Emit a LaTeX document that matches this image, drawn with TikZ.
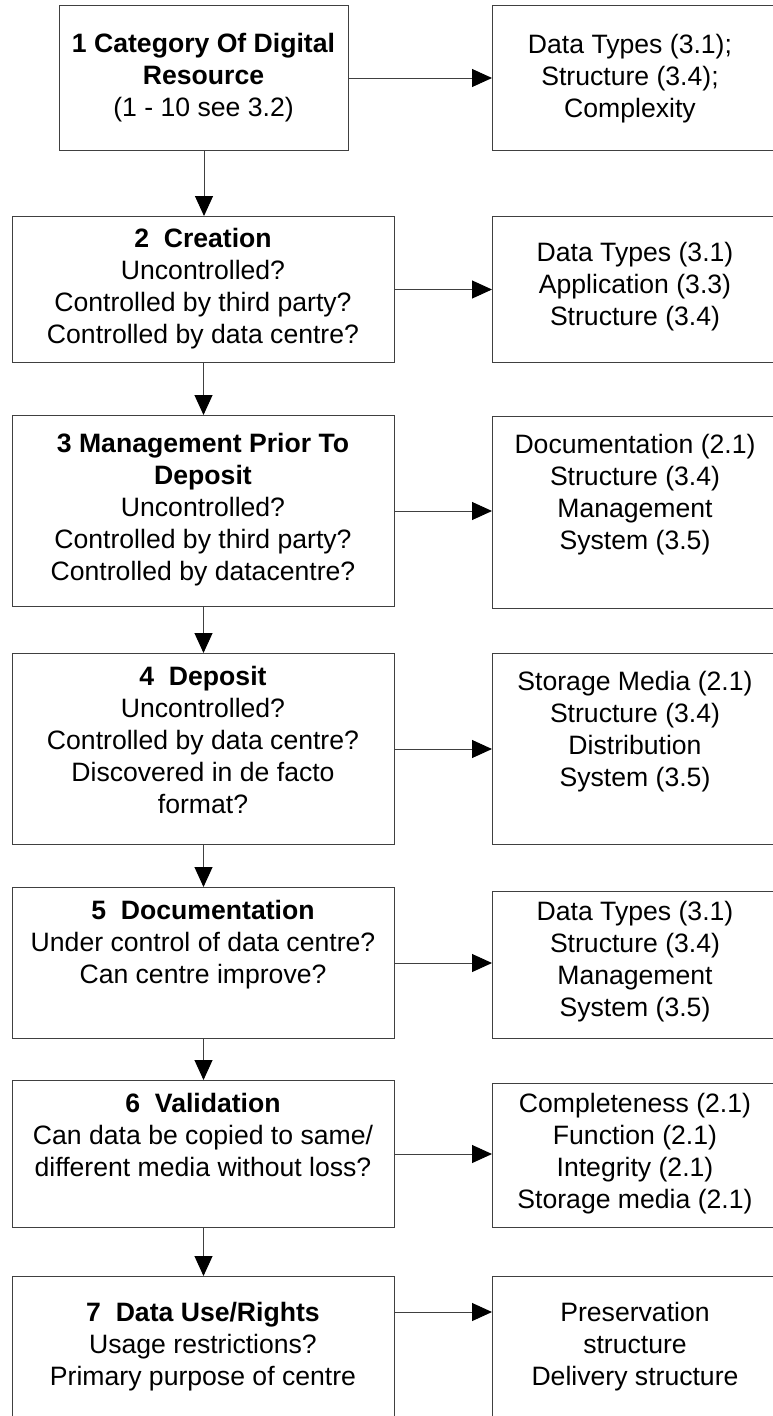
\documentclass[tikz,border=0pt]{standalone}
\usepackage{fontspec}
\setmainfont{Liberation Sans}
\usetikzlibrary{arrows.meta}
\begin{document}
\begin{tikzpicture}[x=1pt,y=-1pt,
  box/.style={draw=black!75, line width=1pt, inner sep=0pt, anchor=north west},
  txt/.style={align=center, inner sep=0pt, font=\fontsize{26.6pt}{32pt}\selectfont},
  arr/.style={draw=black!75, line width=1pt, -{Triangle[length=20pt,width=18pt,color=black,fill=black]}},
]
\useasboundingbox (0,0) rectangle (773,1416);
\clip (0,0) rectangle (773,1416);
% left boxes
\node[box, minimum width=289pt, minimum height=145pt] (b1) at (59,5) {};
\node[box, minimum width=382pt, minimum height=146pt] (b2) at (12,216) {};
\node[box, minimum width=382pt, minimum height=191pt] (b3) at (12,415) {};
\node[box, minimum width=382pt, minimum height=191pt] (b4) at (12,653) {};
\node[box, minimum width=382pt, minimum height=151pt] (b5) at (12,887) {};
\node[box, minimum width=382pt, minimum height=147pt] (b6) at (12,1080) {};
\node[box, minimum width=382pt, minimum height=160pt] (b7) at (12,1276) {};
% right boxes
\node[box, minimum width=289pt, minimum height=145pt] (r1) at (492,5) {};
\node[box, minimum width=289pt, minimum height=146pt] (r2) at (492,216) {};
\node[box, minimum width=289pt, minimum height=192pt] (r3) at (492,416) {};
\node[box, minimum width=289pt, minimum height=191pt] (r4) at (492,653) {};
\node[box, minimum width=289pt, minimum height=147pt] (r5) at (492,891) {};
\node[box, minimum width=289pt, minimum height=144pt] (r6) at (492,1083) {};
\node[box, minimum width=289pt, minimum height=160pt] (r7) at (492,1276) {};
% left texts
\node[txt] (t1) at (203.5,78) {\textbf{1 Category Of Digital}\\\textbf{Resource}\\(1 - 10 see 3.2)};
\node[txt] (t2) at (203,288.5) {\textbf{2\ \ Creation}\\Uncontrolled?\\Controlled by third party?\\Controlled by data centre?};
\node[txt] (t3) at (203,510) {\textbf{3 Management Prior To}\\\textbf{Deposit}\\Uncontrolled?\\Controlled by third party?\\Controlled by datacentre?};
\node[txt] (t4) at (203,740) {\textbf{4\ \ Deposit}\\Uncontrolled?\\Controlled by data centre?\\Discovered in de facto\\format?};
\node[txt] (t5) at (203,945) {\textbf{5\ \ Documentation}\\Under control of data centre?\\Can centre improve?};
\node[txt] (t6) at (203,1135) {\textbf{6\ \ Validation}\\Can data be copied to same/\\different media without loss?};
\node[txt] (t7) at (203,1347) {\textbf{7\ \ Data Use/Rights}\\Usage restrictions?\\Primary purpose of centre};
% right texts
\node[txt] (s1) at (630,79) {Data Types (3.1);\\Structure (3.4);\\Complexity};
\node[txt] (s2) at (635,287) {Data Types (3.1)\\Application (3.3)\\Structure (3.4)};
\node[txt] (s3) at (635,495) {Documentation (2.1)\\Structure (3.4)\\Management\\System (3.5)};
\node[txt] (s4) at (635,731.5) {Storage Media (2.1)\\Structure (3.4)\\Distribution\\System (3.5)};
\node[txt] (s5) at (635,961.5) {Data Types (3.1)\\Structure (3.4)\\Management\\System (3.5)};
\node[txt] (s6) at (635,1154) {Completeness (2.1)\\Function (2.1)\\Integrity (2.1)\\Storage media (2.1)};
\node[txt] (s7) at (635,1347) {Preservation\\structure\\Delivery structure};
% horizontal connectors
\draw[arr] (b1.east) -- (b1.east -| r1.west);
\draw[arr] (b2.east) -- (b2.east -| r2.west);
\draw[arr] (b3.east) -- (b3.east -| r3.west);
\draw[arr] (b4.east) -- (b4.east -| r4.west);
\draw[arr] (b5.east) -- (b5.east -| r5.west);
\draw[arr] (b6.east) -- (b6.east -| r6.west);
\draw[arr] ([yshift=-36pt]b7.north east) -- ([yshift=-36pt]r7.north west);
% vertical connectors
\draw[arr] (b1.south) -- (b1.south |- b2.north);
\draw[arr] (b2.south) -- (b3.north);
\draw[arr] (b3.south) -- (b4.north);
\draw[arr] (b4.south) -- (b5.north);
\draw[arr] (b5.south) -- (b6.north);
\draw[arr] (b6.south) -- (b7.north);
\end{tikzpicture}
\end{document}
